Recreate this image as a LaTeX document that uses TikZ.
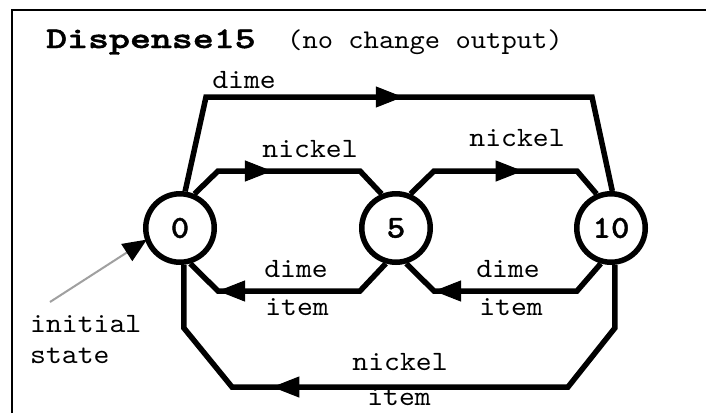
\documentclass[tikz,border=0pt]{standalone}
\usepackage{fontspec}
\usetikzlibrary{arrows.meta,calc}
\newfontfamily\labfont{lmmono10-regular.otf}[FakeStretch=1.08]
\newfontfamily\titlefont{lmmonolt10-bold.otf}[FakeStretch=1.33,FakeBold=1.5]
\newfontfamily\digfont{lmmonolt10-bold.otf}[FakeStretch=1.1,FakeBold=1.2]
\tikzset{
  state/.style={circle, draw, line width=5.5pt, minimum size=68.5pt, inner sep=0pt, fill=white,
    font=\digfont\fontsize{32pt}{36pt}\selectfont},
  lab/.style={anchor=base, inner sep=0pt, font=\labfont\fontsize{28pt}{31pt}\selectfont},
  conn/.style={line width=5.5pt, line join=miter},
  head/.style={line width=1pt, -{Triangle[length=27pt,width=21pt]}},
  initline/.style={line width=2pt, draw={rgb,255:red,160;green,160;blue,160},
    shorten >=-2pt, -{Triangle[length=24pt,width=20pt,color=black]}},
  frame/.style={line width=2.5pt},
}
\begin{document}
\begin{tikzpicture}[x=1pt,y=-1pt]
\useasboundingbox (0,0) rectangle (706,413);
\fill[white] (0,0) rectangle (706,413);
% frame
\coordinate (fa) at (12,413);
\coordinate (fb) at (12,10);
\coordinate (fc) at (710,10);
\draw[frame] (fa) -- (fb) -- (fc);
% title
\node[anchor=base west, inner sep=0pt, font=\titlefont\fontsize{30pt}{34pt}\selectfont] (title) at (46,48) {Dispense15};
\node[anchor=base west, inner sep=0pt, font=\labfont\fontsize{27pt}{30pt}\selectfont] (subtitle) at (287,48) {(no change output)};
% states
\node[state] (n0) at (180,228) {0};
\node[state] (n5) at (396,228) {5};
\node[state] (n10) at (611,228) {10};
% bend points
\coordinate (t1) at (206,97);
\coordinate (t2) at (592,97);
\coordinate (a1) at (218,171);
\coordinate (a2) at (360,171);
\coordinate (b1) at (434,171);
\coordinate (b2) at (577,171);
\coordinate (c1) at (218,291);
\coordinate (c2) at (360,291);
\coordinate (d1) at (434,291);
\coordinate (d2) at (577,291);
\coordinate (e1) at (184,328);
\coordinate (e2) at (232,387);
\coordinate (e3) at (568,387);
\coordinate (e4) at (615,328);
% connectors
\draw[conn] (n0.82) -- (t1) -- (t2) -- (n10.88);
\draw[head] ($(t1)!0.40!(t2)$) -- ($(t1)!0.51!(t2)$);
\draw[conn] (n0.67) -- (a1) -- (a2) -- (n5.113);
\draw[head] ($(a1)!0.2!(a2)$) -- ($(a1)!0.38!(a2)$);
\draw[conn] (n5.67) -- (b1) -- (b2) -- (n10.113);
\draw[head] ($(b1)!0.45!(b2)$) -- ($(b1)!0.62!(b2)$);
\draw[conn] (n5.-106) -- (c2) -- (c1) -- (n0.-74);
\draw[head] ($(c1)!0.22!(c2)$) -- (c1);
\draw[conn] (n10.-106) -- (d2) -- (d1) -- (n5.-74);
\draw[head] ($(d1)!0.22!(d2)$) -- (d1);
\draw[conn] (n10.-84) -- (n10.-84 |- e4) -- (e3) -- (e2) -- (n0.-84 |- e1) -- (n0.-84);
\draw[head] ($(e2)!0.3!(e3)$) -- ($(e2)!0.12!(e3)$);
% initial arrow
\coordinate (init) at (50,302);
\draw[initline] (init) -- (n0.200);
% labels
\node[lab] (l1) at (244,88) {dime};
\node[lab] (l2) at (310,157) {nickel};
\node[lab] (l3) at (517,146) {nickel};
\node[lab] (l4) at (296,277) {dime};
\node[lab] (l5) at (297,315) {item};
\node[lab] (l6) at (508,277) {dime};
\node[lab] (l7) at (511,315) {item};
\node[lab] (l8) at (400,370) {nickel};
\node[lab] (l9) at (399,405) {item};
\node[lab, anchor=base west, align=left] (l10) at (30,363) {initial\\state};
\end{tikzpicture}
\end{document}
